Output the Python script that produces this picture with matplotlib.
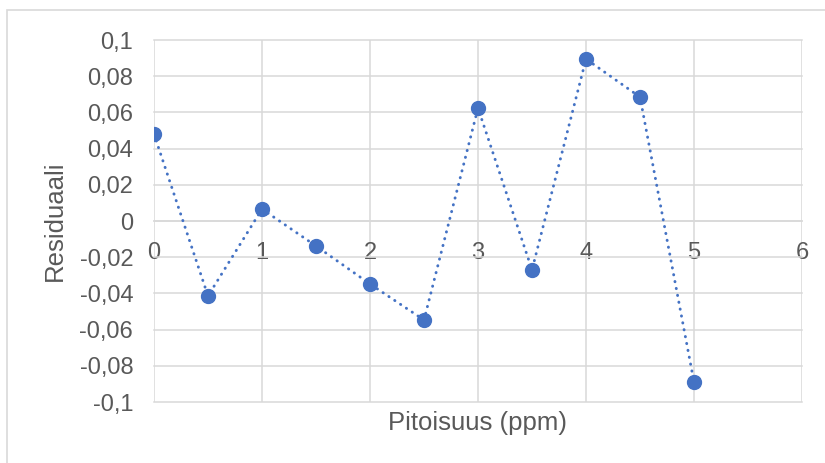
import matplotlib
matplotlib.use("Agg")
import matplotlib.pyplot as plt
from matplotlib.patches import Rectangle
from matplotlib.ticker import FuncFormatter

# pitoisuus (ppm) and residuals
pitoisuus = [0, 0.5, 1, 1.5, 2, 2.5, 3, 3.5, 4, 4.5, 5]
residuaali = [0.048, -0.0414, 0.0066, -0.0138, -0.0348, -0.0547,
              0.0624, -0.027, 0.0895, 0.0685, -0.089]

xticks = [0, 1, 2, 3, 4, 5, 6]
yticks = [-0.1, -0.08, -0.06, -0.04, -0.02, 0, 0.02, 0.04, 0.06, 0.08, 0.1]

blue = "#4472C4"
grid = "#D9D9D9"
txt = "#595959"

plt.rcParams["font.family"] = ["Liberation Sans", "DejaVu Sans"]

fig = plt.figure(figsize=(8.25, 4.63), dpi=100)
ax = fig.add_axes([154 / 825, 1 - 402 / 463, 648 / 825, 362 / 463])

# outer chart border (cut off at right and bottom like the reference)
fig.add_artist(Rectangle((6.5 / 825, -0.1), 1.2, 1 - 10.5 / 463 + 0.1,
                         transform=fig.transFigure, fill=False,
                         edgecolor=grid, linewidth=1.2))

ax.plot(pitoisuus, residuaali, color=blue, linewidth=2.1,
        dashes=(0.1, 2.3), dash_capstyle="round",
        marker="o", markersize=10, markerfacecolor=blue,
        markeredgecolor=blue, zorder=3)

ax.set_xlim(0, 6)
ax.set_ylim(-0.1, 0.1)
ax.set_xticks(xticks)
ax.set_yticks(yticks)

def fmt(v, pos):
    s = "%g" % round(v, 4)
    return s.replace(".", ",")

ax.xaxis.set_major_formatter(FuncFormatter(fmt))
ax.yaxis.set_major_formatter(FuncFormatter(fmt))

ax.grid(True, color=grid, linewidth=1.1)
for gl in ax.get_xgridlines() + ax.get_ygridlines():
    gl.set_clip_on(False)
ax.set_axisbelow(True)

for s in ["top", "right", "left"]:
    ax.spines[s].set_visible(False)
ax.spines["bottom"].set_position(("data", 0))
ax.spines["bottom"].set_color(grid)
ax.spines["bottom"].set_linewidth(1.1)

ax.tick_params(axis="both", length=0, labelsize=17, colors=txt)
ax.tick_params(axis="x", pad=15)
ax.tick_params(axis="y", pad=15)

fig.text(478 / 825, 1 - 430 / 463, "Pitoisuus (ppm)", fontsize=18.5,
         color=txt, ha="center", va="baseline")
fig.text(55 / 825, 1 - 221 / 463, "Residuaali", fontsize=18.5,
         color=txt, ha="center", va="center", rotation=90)

fig.savefig("out.png", dpi=100)
